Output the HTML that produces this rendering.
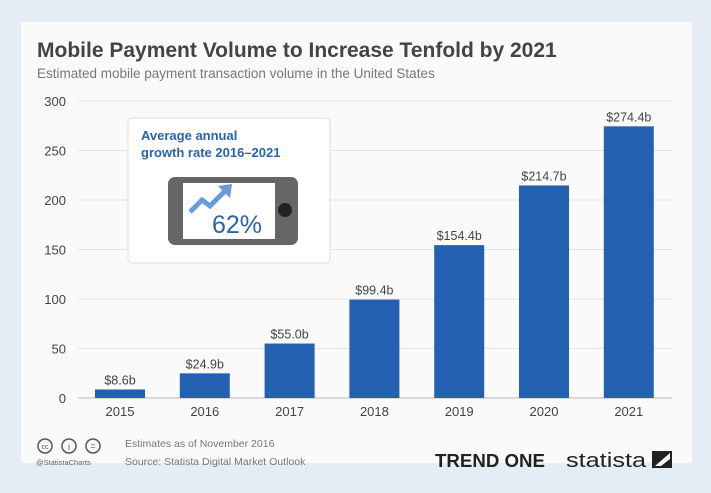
<!DOCTYPE html>
<html><head><meta charset="utf-8"><style>
body{margin:0;width:711px;height:493px;background:#e4edf6;font-family:"Liberation Sans",sans-serif;overflow:hidden;position:relative}
#card{position:absolute;left:21px;top:22px;width:671px;height:441px;background:#fafafa}
</style></head><body>
<div id="card"></div>
<svg width="711" height="493" style="position:absolute;left:0;top:0">
<text x="37" y="57" font-size="21" font-weight="bold" fill="#444">Mobile Payment Volume to Increase Tenfold by 2021</text>
<text x="37" y="78" font-size="13.5" fill="#777">Estimated mobile payment transaction volume in the United States</text>
<g id="grid"></g><g id="bars"></g>
<g>
<rect x="128" y="118" width="202" height="145" rx="4" fill="#fff" stroke="#ddd"/>
<text x="141" y="140" font-size="13" font-weight="bold" fill="#2a64a8">Average annual</text>
<text x="141" y="157" font-size="13" font-weight="bold" fill="#2a64a8">growth rate 2016–2021</text>
<rect x="168" y="177" width="130" height="68" rx="7" fill="#666"/>
<rect x="183" y="183" width="92" height="56" fill="#fff"/>
<circle cx="285" cy="210" r="7" fill="#222"/>
<polyline points="190,212 202,200 210,206 226,190" fill="none" stroke="#6a9ad8" stroke-width="5"/>
<polygon points="218,186 232,184 230,198" fill="#6a9ad8"/>
<text x="237" y="233" font-size="25" fill="#2a64a8" text-anchor="middle">62%</text>
</g>
<g>
<circle cx="45" cy="446" r="7" fill="none" stroke="#555" stroke-width="1.5"/><text x="45" y="449" font-size="7" text-anchor="middle" fill="#555">cc</text>
<circle cx="69" cy="446" r="7" fill="none" stroke="#555" stroke-width="1.5"/><text x="69" y="450" font-size="9" text-anchor="middle" fill="#555">i</text>
<circle cx="93" cy="446" r="7" fill="none" stroke="#555" stroke-width="1.5"/><text x="93" y="449" font-size="9" text-anchor="middle" fill="#555">=</text>
<text x="36" y="465" font-size="7.5" fill="#666">@StatistaCharts</text>
<text x="125" y="447" font-size="10.5" fill="#777">Estimates as of November 2016</text>
<text x="125" y="465" font-size="10.5" fill="#777">Source: Statista Digital Market Outlook</text>
<text x="435" y="467" font-size="18" font-weight="bold" fill="#222" textLength="110" lengthAdjust="spacingAndGlyphs">TREND ONE</text>
<text x="566" y="467" font-size="20" fill="#222" textLength="80" lengthAdjust="spacingAndGlyphs">statista</text>
<polygon points="652,451 672,451 672,468 652,468" fill="#222"/><polygon points="655,466 670,453 670,459 661,466" fill="#fafafa"/>
</g>
</svg>
<script>
const years=["2015","2016","2017","2018","2019","2020","2021"];
const values=[8.6,24.9,55.0,99.4,154.4,214.7,274.4];
const labels=["$8.6b","$24.9b","$55.0b","$99.4b","$154.4b","$214.7b","$274.4b"];
const ticks=[0,50,100,150,200,250,300];
const NS="http://www.w3.org/2000/svg";
const y=v=>398-v*0.99, x=i=>120+i*84.8;
function mk(t,a,p){const e=document.createElementNS(NS,t);for(const k in a)e.setAttribute(k,a[k]);p.appendChild(e);return e;}
const g=document.getElementById('grid'),b=document.getElementById('bars');
ticks.forEach(t=>{
const l=mk('line',{x1:78,x2:672,y1:y(t),y2:y(t),stroke:t?'#e3e3e3':'#bbb'},g);


const tx=mk('text',{x:66,y:y(t)+5,'font-size':13,fill:'#444','text-anchor':'end'},g);tx.textContent=t;


});
years.forEach((yr,i)=>{
const r=mk('rect',{x:x(i)-25,y:y(values[i]),width:50,height:398-y(values[i]),fill:'#2460b0'},b);


const vl=mk('text',{x:x(i),y:y(values[i])-5,'font-size':12.5,fill:'#444','text-anchor':'middle'},b);vl.textContent=labels[i];


const xl=mk('text',{x:x(i),y:416,'font-size':13,fill:'#444','text-anchor':'middle'},b);xl.textContent=yr;


});
</script>
</body></html>
